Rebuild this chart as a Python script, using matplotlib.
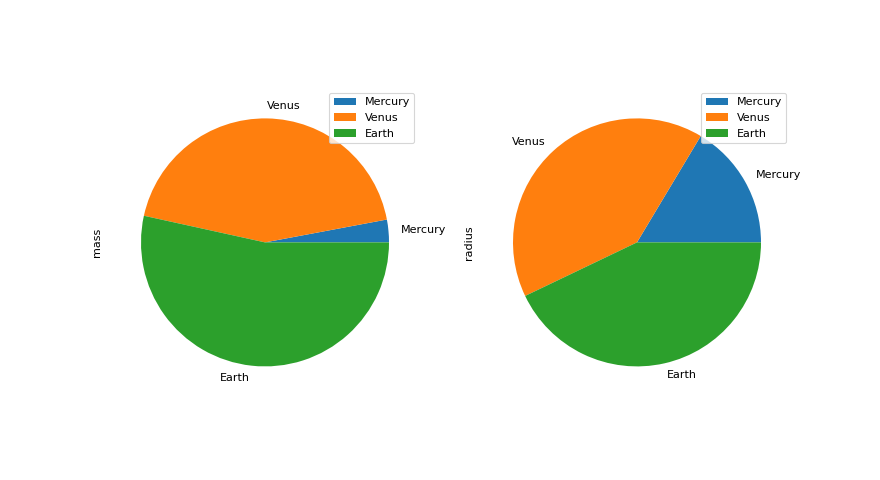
import matplotlib
matplotlib.use("Agg")
import matplotlib.pyplot as plt

planets = ['Mercury', 'Venus', 'Earth']
mass = [0.330, 4.87, 5.97]
radius = [2439.7, 6051.8, 6378.1]

fig, axes = plt.subplots(1, 2, figsize=(11, 6), dpi=80)

for ax, values, name in zip(axes, [mass, radius], ['mass', 'radius']):
    ax.pie(values, labels=planets)
    ax.set_ylabel(name, labelpad=7.5)
    ax.set_aspect('equal')
    ax.legend(loc='best')

fig.savefig('out.png', dpi=80)
